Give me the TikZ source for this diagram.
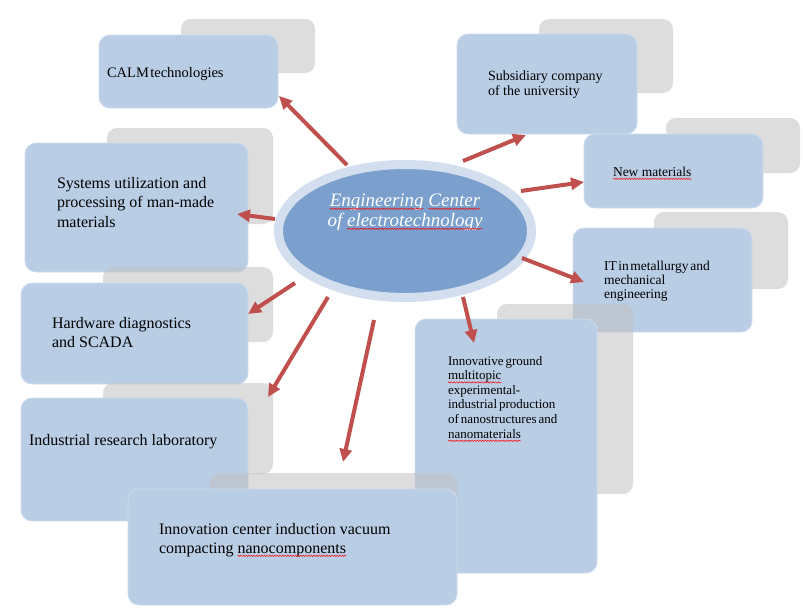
\documentclass[tikz,border=0pt]{standalone}
\usepackage{fontspec}
\setmainfont{Liberation Serif}
\usetikzlibrary{arrows.meta,shapes.geometric,decorations.pathmorphing}
\definecolor{boxblue}{HTML}{B9CDE5}
\definecolor{boxedge}{HTML}{CFDCEE}
\definecolor{ellring}{HTML}{D3DFEE}
\definecolor{ellfill}{HTML}{7BA0CD}
\definecolor{arrred}{HTML}{C0504D}
\definecolor{shadowgray}{RGB}{194,194,194}
\newcommand\sq[1]{\tikz[baseline=(sqw.base)]{\node[inner sep=0pt,outer sep=0pt,anchor=base](sqw){#1};\draw[overlay,red,line width=0.45pt,decorate,decoration={snake,amplitude=0.7pt,segment length=2.6pt}]([yshift=-2.8pt]sqw.base west)--([yshift=-2.8pt]sqw.base east);}}
\newcommand\ml[2]{\parbox[t]{#1}{\raggedright #2}}
\begin{document}
\begin{tikzpicture}[x=1pt,y=-1pt,
 shadowbox/.style={rectangle,rounded corners=10pt,fill=shadowgray,fill opacity=0.55,draw=none,inner sep=0pt},
 bluebox/.style={rectangle,rounded corners=11pt,fill=boxblue,draw=boxedge,line width=0.8pt,inner sep=0pt},
 txt/.style={inner sep=0pt,outer sep=0pt,anchor=base west,text=black},
 arr/.style={draw=arrred,line width=4pt,-{Triangle[length=13pt,width=12pt]}}]
\useasboundingbox (0,0) rectangle (803,614);
\fill[white] (0,0) rectangle (803,614);
% boxes with shadows
\node[shadowbox,minimum width=134pt,minimum height=54pt] (calmS) at (248,46) {};
\node[bluebox,minimum width=179pt,minimum height=73pt] (calm) at (188.5,71.5) {};
\node[shadowbox,minimum width=166pt,minimum height=96pt] (sysS) at (190,176) {};
\node[bluebox,minimum width=223pt,minimum height=129pt] (sys) at (136.5,207.5) {};
\node[shadowbox,minimum width=170pt,minimum height=75pt] (hwS) at (188,304.5) {};
\node[bluebox,minimum width=227pt,minimum height=101pt] (hw) at (134.5,333.5) {};
\node[shadowbox,minimum width=170pt,minimum height=91pt] (labS) at (188,428.5) {};
\node[bluebox,minimum width=227pt,minimum height=123pt] (lab) at (134.5,459.5) {};
\node[shadowbox,minimum width=134pt,minimum height=74pt] (subS) at (606,56) {};
\node[bluebox,minimum width=180pt,minimum height=100pt] (sub) at (547,84) {};
\node[shadowbox,minimum width=134pt,minimum height=55pt] (newS) at (733,145.5) {};
\node[bluebox,minimum width=179pt,minimum height=74pt] (new) at (673.5,171) {};
\node[shadowbox,minimum width=134pt,minimum height=77pt] (itS) at (721,250.5) {};
\node[bluebox,minimum width=179pt,minimum height=104pt] (it) at (662.5,280) {};
\node[shadowbox,minimum width=136pt,minimum height=190pt] (ingS) at (565,399) {};
\node[bluebox,minimum width=182pt,minimum height=254pt] (ing) at (506,446) {};
\node[shadowbox,minimum width=247pt,minimum height=87pt] (icS) at (333.5,516.5) {};
\node[bluebox,minimum width=329pt,minimum height=116pt] (ic) at (292.5,547) {};
% centre ellipse
\node[ellipse,minimum width=253pt,minimum height=133pt,fill=ellfill,draw=ellring,line width=9pt,inner sep=0pt] (ell) at (405,231) {};
\node[inner sep=0pt,outer sep=0pt,anchor=base,text=white,font=\itshape\fontsize{19}{20}\selectfont] (ellT) at (405,206)
 {\parbox[t]{220pt}{\centering \sq{Engineering} \sq{Center}\\of \sq{electrotechnology}}};
% texts
\node[txt,font=\fontsize{14.5}{17}\selectfont] (calmT) at (107,77) {\spaceskip=0.1em CALM technologies};
\node[txt,font=\fontsize{16}{19.5}\selectfont] (sysT) at (57,188) {\ml{210pt}{Systems utilization and\\processing of man-made\\materials}};
\node[txt,font=\fontsize{16}{19}\selectfont] (hwT) at (52,328) {\ml{210pt}{Hardware diagnostics\\and SCADA}};
\node[txt,font=\fontsize{16}{19}\selectfont] (labT) at (29,445) {Industrial research laboratory};
\node[txt,font=\fontsize{16}{19}\selectfont] (icT) at (159,534) {\ml{300pt}{Innovation center induction vacuum\\compacting \sq{nanocomponents}}};
\node[txt,font=\fontsize{14}{15}\selectfont] (subT) at (488,80) {\ml{170pt}{Subsidiary company\\of the university}};
\node[txt,font=\fontsize{13.5}{16}\selectfont] (newT) at (613,176) {\spaceskip=0.05em \sq{New materials}};
\node[txt,font=\fontsize{13.5}{14.3}\selectfont] (itT) at (604,270) {\spaceskip=0.12em \ml{170pt}{IT in metallurgy and\\mechanical\\engineering}};
\node[txt,font=\fontsize{13}{14.6}\selectfont] (ingT) at (448,365) {\spaceskip=0.15em \ml{170pt}{Innovative ground\\\sq{multitopic}\\experimental-\\industrial production\\of nanostructures and\\\sq{nanomaterials}}};
% arrows
\coordinate (t1) at (347,165); \coordinate (h1) at (279,96);
\coordinate (t2) at (275,219); \coordinate (h2) at (237,214);
\coordinate (t3) at (295,283); \coordinate (h3) at (248,314);
\coordinate (t4) at (328,297); \coordinate (h4) at (268,397);
\coordinate (t5) at (374,320); \coordinate (h5) at (343,462);
\coordinate (t6) at (463,297); \coordinate (h6) at (474,343);
\coordinate (t7) at (522,258); \coordinate (h7) at (584,282);
\coordinate (t8) at (521,191); \coordinate (h8) at (584,182);
\coordinate (t9) at (463,161); \coordinate (h9) at (526,135);
\draw[arr] (t1) -- (h1);
\draw[arr] (t2) -- (h2);
\draw[arr] (t3) -- (h3);
\draw[arr] (t4) -- (h4);
\draw[arr] (t5) -- (h5);
\draw[arr] (t6) -- (h6);
\draw[arr] (t7) -- (h7);
\draw[arr] (t8) -- (h8);
\draw[arr] (t9) -- (h9);
\end{tikzpicture}
\end{document}
